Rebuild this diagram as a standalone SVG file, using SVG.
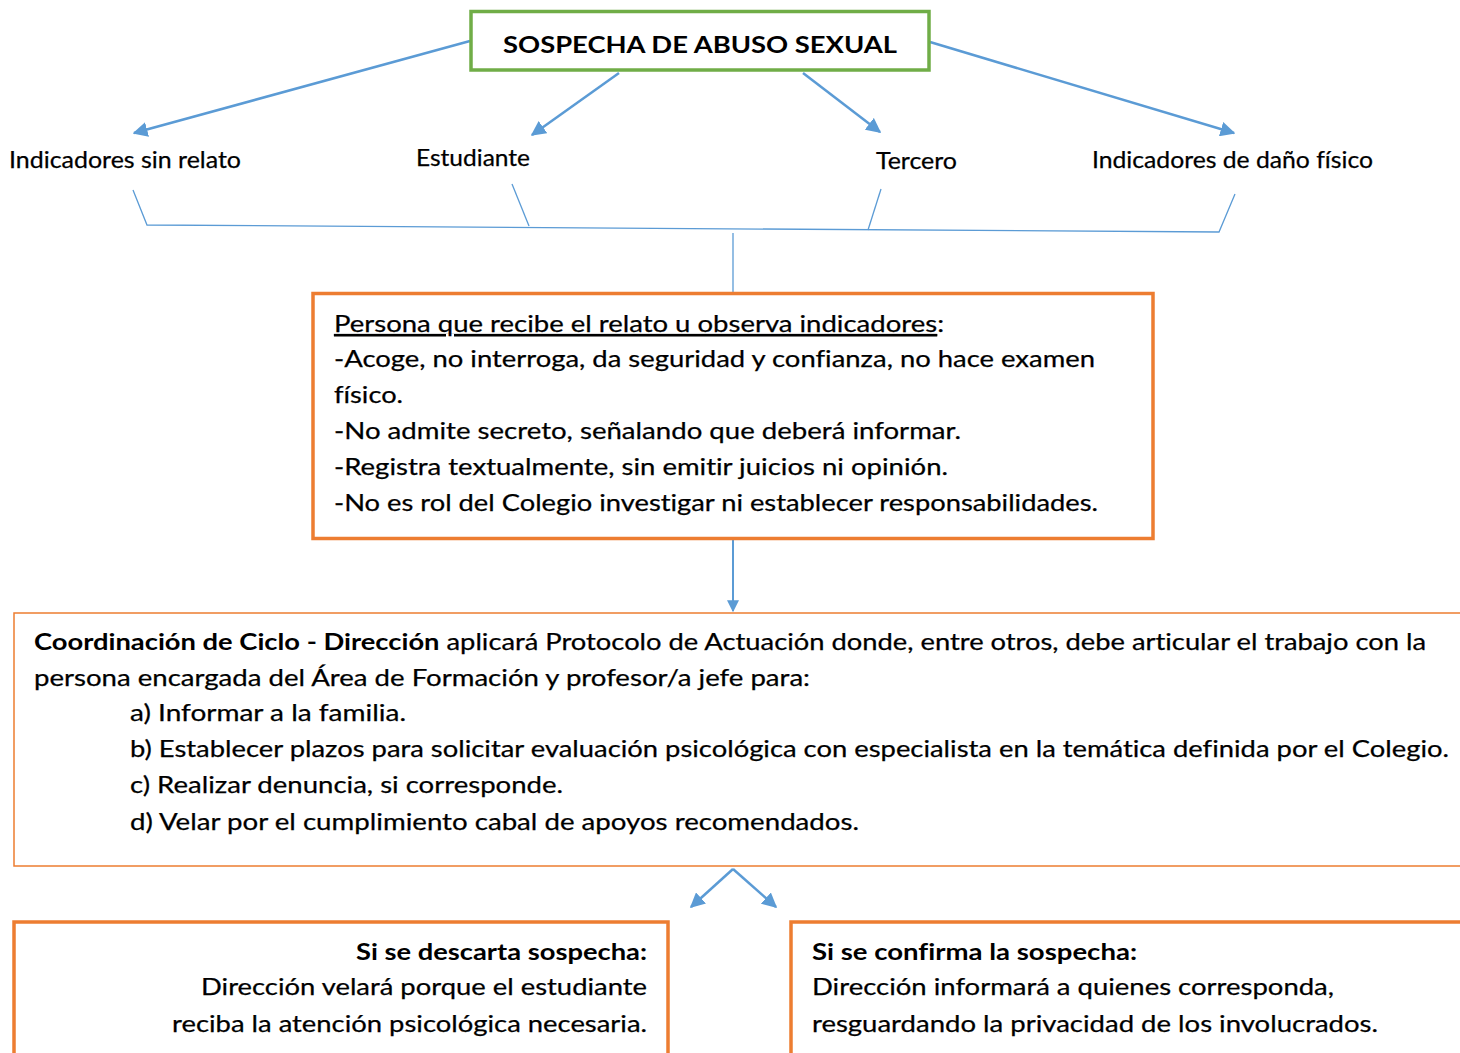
<svg xmlns="http://www.w3.org/2000/svg" width="1460" height="1053" viewBox="0 0 1460 1053">
<defs>
<style>
.t{font-family:Lato,"Liberation Sans",sans-serif;font-size:23.5px;fill:#000;font-variant-ligatures:none;stroke:#000;stroke-width:0.25px}
.b{font-weight:bold;stroke-width:0}
.blue{stroke:#5B9BD5;fill:none}
.or{fill:#fff;stroke:#ED7D31}
</style>
<marker id="ah" viewBox="0 0 10 10" refX="9" refY="5" markerWidth="6" markerHeight="6" orient="auto" markerUnits="strokeWidth">
<path d="M0,0 L10,5 L0,10 z" fill="#5B9BD5"/>
</marker>
</defs>
<rect width="1460" height="1053" fill="#fff"/>
<g id="connectors">
<line class="blue" stroke-width="2.5" x1="470" y1="41" x2="134" y2="133" marker-end="url(#ah)"/>
<line class="blue" stroke-width="2.5" x1="619" y1="73" x2="532" y2="135" marker-end="url(#ah)"/>
<line class="blue" stroke-width="2.5" x1="803" y1="73" x2="880" y2="132" marker-end="url(#ah)"/>
<line class="blue" stroke-width="2.5" x1="930" y1="42" x2="1234" y2="133" marker-end="url(#ah)"/>
<path class="blue" stroke-width="1.3" d="M133,190 L147,225 L1219,232 L1235,194"/>
<line class="blue" stroke-width="1.3" x1="512" y1="184" x2="529" y2="226"/>
<line class="blue" stroke-width="1.3" x1="881" y1="189" x2="868" y2="230"/>
<line class="blue" stroke-width="1.3" x1="733" y1="233" x2="733" y2="292"/>
<line class="blue" stroke-width="2" x1="733" y1="536" x2="733" y2="611" marker-end="url(#ah)"/>
<line class="blue" stroke-width="2.5" x1="733" y1="869" x2="691" y2="907" marker-end="url(#ah)"/>
<line class="blue" stroke-width="2.5" x1="733" y1="869" x2="776" y2="907" marker-end="url(#ah)"/>
</g>
<g id="n-title">
<rect x="471" y="11.5" width="458" height="58.5" fill="#fff" stroke="#70AD47" stroke-width="3.5"/>
<text class="t b" x="700" y="53" text-anchor="middle" font-size="28" textLength="394" lengthAdjust="spacingAndGlyphs">SOSPECHA DE ABUSO SEXUAL</text>
</g>
<g id="n-sinrelato"><text class="t" x="9" y="168" textLength="232" lengthAdjust="spacingAndGlyphs">Indicadores sin relato</text></g>
<g id="n-estudiante"><text class="t" x="416" y="166" textLength="114" lengthAdjust="spacingAndGlyphs">Estudiante</text></g>
<g id="n-tercero"><text class="t" x="876" y="169" textLength="81" lengthAdjust="spacingAndGlyphs">Tercero</text></g>
<g id="n-danofisico"><text class="t" x="1092" y="168" textLength="281" lengthAdjust="spacingAndGlyphs">Indicadores de daño físico</text></g>
<g id="n-persona">
<rect class="or" x="313" y="293.5" width="840" height="245" stroke-width="3.5"/>
<text class="t" x="334" y="332" textLength="610" lengthAdjust="spacingAndGlyphs"><tspan text-decoration="underline">Persona que recibe el relato u observa indicadores</tspan>:</text>
<text class="t" x="334" y="367" textLength="761" lengthAdjust="spacingAndGlyphs">-Acoge, no interroga, da seguridad y confianza, no hace examen</text>
<text class="t" x="334" y="403" textLength="69" lengthAdjust="spacingAndGlyphs">físico.</text>
<text class="t" x="334" y="439" textLength="627" lengthAdjust="spacingAndGlyphs">-No admite secreto, señalando que deberá informar.</text>
<text class="t" x="334" y="475" textLength="614" lengthAdjust="spacingAndGlyphs">-Registra textualmente, sin emitir juicios ni opinión.</text>
<text class="t" x="334" y="511" textLength="764" lengthAdjust="spacingAndGlyphs">-No es rol del Colegio investigar ni establecer responsabilidades.</text>
</g>
<g id="n-coordinacion">
<rect class="or" x="14" y="613" width="1460" height="253" stroke-width="1.5"/>
<text class="t" x="34" y="650" textLength="1392" lengthAdjust="spacingAndGlyphs"><tspan class="b">Coordinación de Ciclo - Dirección</tspan> aplicará Protocolo de Actuación donde, entre otros, debe articular el trabajo con la</text>
<text class="t" x="34" y="686" textLength="776" lengthAdjust="spacingAndGlyphs">persona encargada del Área de Formación y profesor/a jefe para:</text>
<text class="t" x="130" y="721" textLength="276" lengthAdjust="spacingAndGlyphs">a) Informar a la familia.</text>
<text class="t" x="130" y="757" textLength="1319" lengthAdjust="spacingAndGlyphs">b) Establecer plazos para solicitar evaluación psicológica con especialista en la temática definida por el Colegio.</text>
<text class="t" x="130" y="793" textLength="433" lengthAdjust="spacingAndGlyphs">c) Realizar denuncia, si corresponde.</text>
<text class="t" x="130" y="830" textLength="729" lengthAdjust="spacingAndGlyphs">d) Velar por el cumplimiento cabal de apoyos recomendados.</text>
</g>
<g id="n-descarta">
<rect class="or" x="14" y="922" width="654" height="160" stroke-width="3.5"/>
<text class="t b" x="647" y="960" text-anchor="end" textLength="291" lengthAdjust="spacingAndGlyphs">Si se descarta sospecha:</text>
<text class="t" x="647" y="995" text-anchor="end" textLength="446" lengthAdjust="spacingAndGlyphs">Dirección velará porque el estudiante</text>
<text class="t" x="647" y="1032" text-anchor="end" textLength="475" lengthAdjust="spacingAndGlyphs">reciba la atención psicológica necesaria.</text>
</g>
<g id="n-confirma">
<rect class="or" x="791" y="922" width="700" height="160" stroke-width="3.5"/>
<text class="t b" x="812" y="960" textLength="325" lengthAdjust="spacingAndGlyphs">Si se confirma la sospecha:</text>
<text class="t" x="812" y="995" textLength="522" lengthAdjust="spacingAndGlyphs">Dirección informará a quienes corresponda,</text>
<text class="t" x="812" y="1032" textLength="566" lengthAdjust="spacingAndGlyphs">resguardando la privacidad de los involucrados.</text>
</g>
</svg>
